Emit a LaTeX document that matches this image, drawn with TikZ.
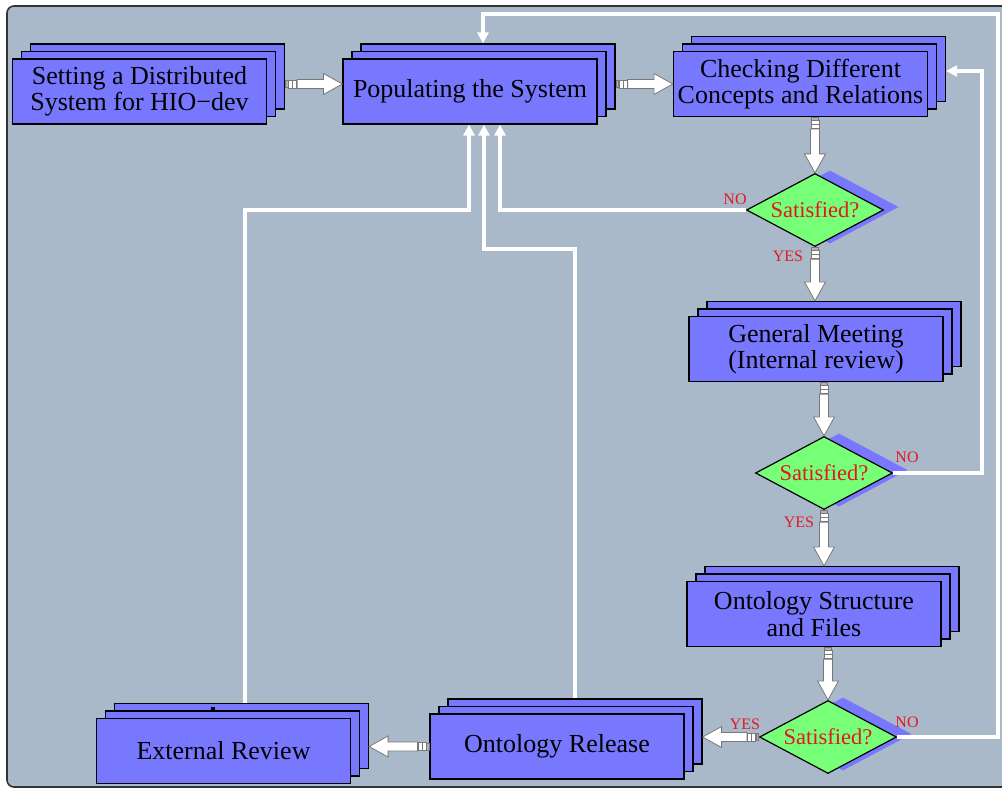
\documentclass[tikz,border=0pt]{standalone}
\usepackage{fontspec}
\setmainfont{Liberation Serif}
\usetikzlibrary{shapes.geometric,arrows.meta,calc}

\definecolor{panel}{RGB}{170,185,201}
\definecolor{boxblue}{RGB}{120,120,255}
\definecolor{diagreen}{RGB}{119,255,119}
\definecolor{askred}{RGB}{225,25,35}
\definecolor{arrowedge}{RGB}{120,120,120}

\tikzset{
  boxfront/.style={rectangle, draw=black, line width=1.2pt, fill=boxblue,
    minimum width=254pt, minimum height=65pt, inner sep=0pt, align=center,
    font=\fontsize{26}{26.5}\selectfont},
  boxback/.style={boxfront},
  decision/.style={diamond, aspect=1.88, draw=black, line width=1.2pt, fill=diagreen,
    minimum width=137pt, minimum height=73pt, inner sep=0pt, text=askred,
    font=\fontsize{22.5}{24}\selectfont},
  decshadow/.style={diamond, aspect=1.88, fill=boxblue, minimum width=137pt,
    minimum height=73pt, inner sep=0pt},
  answer/.style={text=askred, font=\fontsize{16}{18}\selectfont, inner sep=0pt},
  feedback/.style={draw=white, line width=3.5pt, -{Triangle[width=11pt,length=11pt]}},
  stubdark/.style={fill=gray!60, draw=arrowedge, line width=0.6pt},
  stubwhite/.style={fill=white, draw=arrowedge, line width=0.6pt},
  arrowbody/.style={fill=white, draw=arrowedge, line width=0.8pt, line join=miter},
}

% three stacked sheets: back, middle, front (front carries the label)
\newcommand\stackbox[3]{%
  \node[boxback] (#1k) at ($#2+(18,-15)$) {};
  \node[boxback] (#1m) at ($#2+(9,-7.5)$) {};
  \node[boxfront] (#1) at #2 {#3};
}

% wide hollow arrow with a small segmented tail, from #1 to #2
\newcommand\blockarrow[2]{%
  \path #1 coordinate (ba-from) #2 coordinate (ba-to);
  \path let \p1=(ba-from), \p2=(ba-to) in
    \pgfextra{\pgfmathsetmacro\baangle{atan2(\y2-\y1,\x2-\x1)}%
              \pgfmathsetmacro\balength{veclen(\x2-\x1,\y2-\y1)}%
              \xdef\baangle{\baangle}\xdef\balength{\balength}};
  \begin{scope}[shift={(ba-from)}, rotate=\baangle]
    \filldraw[stubdark] (0.5pt,-3.5pt) rectangle (3pt,3.5pt);
    \filldraw[stubwhite] (3.5pt,-4pt) rectangle (7.5pt,4pt);
    \filldraw[stubwhite] (7.5pt,-4pt) rectangle (11.5pt,4pt);
    \filldraw[arrowbody] (12pt,-4.5pt) -- ({\balength pt-19pt},-4.5pt)
      -- ({\balength pt-19pt},-10.5pt) -- (\balength pt,0pt)
      -- ({\balength pt-19pt},10.5pt) -- ({\balength pt-19pt},4.5pt)
      -- (12pt,4.5pt) -- cycle;
  \end{scope}
}

\begin{document}
\begin{tikzpicture}[x=1pt,y=-1pt]
\useasboundingbox (0,0) rectangle (1002,789);
\clip (0,0) rectangle (1002,789);

% panel
\draw[fill=panel, draw=black!80, line width=1.6pt, rounded corners=7pt]
  (7,6) rectangle (1014,787);

% process steps
\stackbox{setup}{(139.5,91.5)}{Setting a Distributed\\System for HIO−dev}
\stackbox{populate}{(470,91.5)}{Populating the System}
\stackbox{check}{(800.5,84)}{Checking Different\\Concepts and Relations}
\stackbox{meeting}{(816,349)}{General Meeting\\(Internal review)}
\stackbox{structure}{(814,614)}{Ontology Structure\\and Files}
\stackbox{external}{(223.5,751)}{External Review}
\stackbox{release}{(557,746.5)}{Ontology Release}

\fill[black] (211,706.5) rectangle (214.5,709.5);

% decisions
\node[decshadow] (sat1s) at (830,207) {};
\node[decshadow] (sat2s) at (839,470) {};
\node[decshadow] (sat3s) at (843,734) {};
\node[decision] (sat1) at (815,210) {Satisfied?};
\node[decision] (sat2) at (824,473) {Satisfied?};
\node[decision] (sat3) at (828,737) {Satisfied?};

% main flow
\blockarrow{(setupk.east |- setupm.east)}{(populate.west |- setupm.east)}
\blockarrow{(populatek.east |- check.west)}{(check.west)}
\blockarrow{(sat1.north |- check.south)}{(sat1.north)}
\blockarrow{(sat1.south)}{(sat1.south |- meetingk.north)}
\blockarrow{(sat2.north |- meeting.south)}{(sat2.north)}
\blockarrow{(sat2.south)}{(sat2.south |- structurek.north)}
\blockarrow{(sat3.north |- structure.south)}{(sat3.north)}
\blockarrow{(sat3.west)}{(releasek.east |- sat3.west)}
\blockarrow{(release.west)}{(externalk.east |- release.west)}

% feedback loops
\coordinate (bend2) at (484,249);
\coordinate (bend3) at (469,210);
\coordinate (bend4) at (982,71);
\coordinate (bend5) at (998,14);
\draw[feedback] (sat1.west) -| ([xshift=30pt]populate.south);
\draw[feedback] (releasek.north) |- (bend2) -- (bend2 |- populate.south);
\draw[feedback] ([xshift=3.5pt]externalk.north) |- (bend3) -- (bend3 |- populate.south);
\draw[feedback] (sat2.east) -| (bend4) -- (bend4 -| checkk.east);
\draw[feedback] (sat3.east) -| (bend5) -| ([xshift=-5pt]populatek.north);

% answers
\node[answer] (no1) at (735,199) {NO};
\node[answer] (yes1) at (788,256) {YES};
\node[answer] (no2) at (907,457) {NO};
\node[answer] (yes2) at (799,522) {YES};
\node[answer] (yes3) at (745,724) {YES};
\node[answer] (no3) at (907,722) {NO};
\end{tikzpicture}
\end{document}
